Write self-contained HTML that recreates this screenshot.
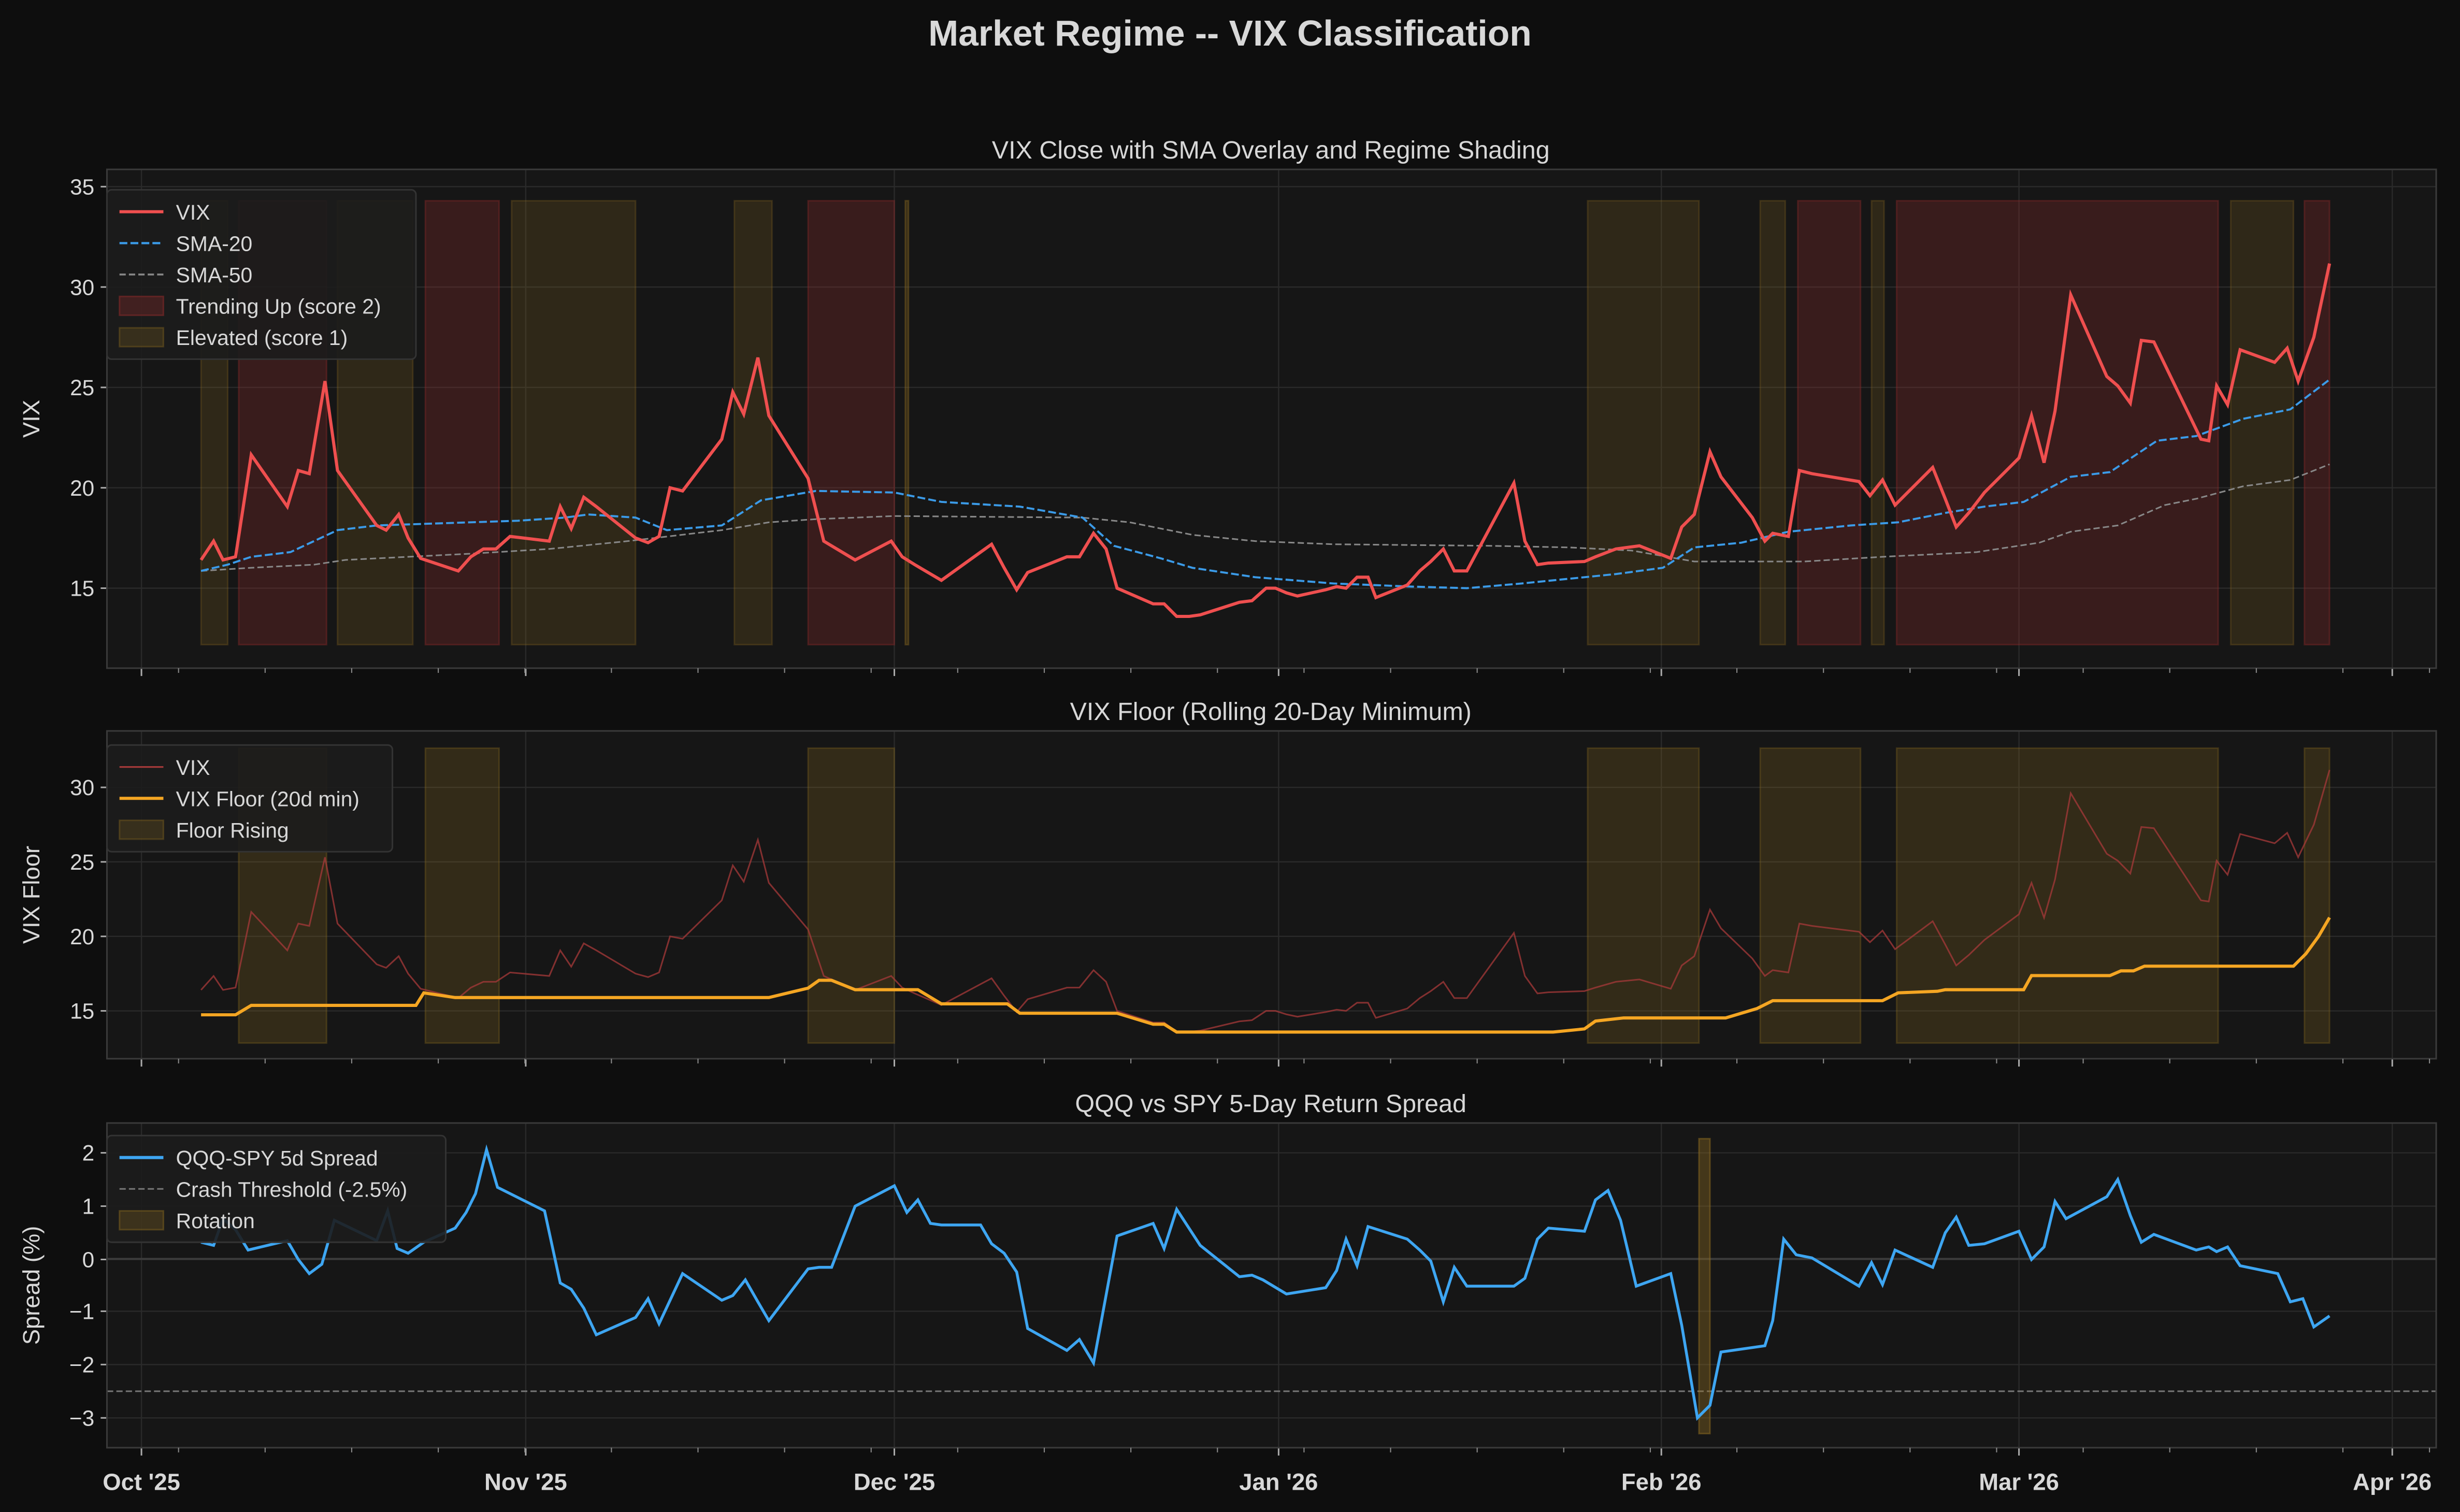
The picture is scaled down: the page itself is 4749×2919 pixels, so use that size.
<!DOCTYPE html>
<html><head><meta charset="utf-8"><style>
html,body{margin:0;padding:0;background:#0e0e0e;}
svg{display:block}
text{font-family:"Liberation Sans","DejaVu Sans",sans-serif;fill:#d8d8d8}
</style></head><body>
<svg id="s" width="4749" height="2919" viewBox="0 0 1568 964" xmlns="http://www.w3.org/2000/svg">
<rect width="1568" height="964" fill="#0e0e0e"/>
<text x="784" y="29" font-size="23" font-weight="bold" text-anchor="middle" fill="#e6e6e6">Market Regime -- VIX Classification</text>
<g id="g"></g>
</svg>
<script>
const NS="http://www.w3.org/2000/svg",G=document.getElementById('g');
function el(t,a,txt){const e=document.createElementNS(NS,t);for(const k in a)e.setAttribute(k,a[k]);if(txt!==undefined)e.textContent=txt;G.appendChild(e);return e;}
function pl(p,a){a.points=p.map(q=>q.join(',')).join(' ');a.fill='none';return el('polyline',a);}
const X0=68,X1=1553;
const xt=[[90,"Oct '25"],[335,"Nov '25"],[570,"Dec '25"],[815,"Jan '26"],[1059,"Feb '26"],[1287,"Mar '26"],[1525,"Apr '26"]];
function axes(y0,y1,title,ylab,yt){
 el('rect',{x:X0,y:y0,width:X1-X0,height:y1-y0,fill:'#161616'});
 xt.forEach(t=>el('line',{x1:t[0],x2:t[0],y1:y0,y2:y1,stroke:'#2a2a2a','stroke-width':0.8}));
 yt.forEach(t=>{el('line',{x1:X0,x2:X1,y1:t[1],y2:t[1],stroke:'#2a2a2a','stroke-width':0.8});
  el('line',{x1:X0-4,x2:X0,y1:t[1],y2:t[1],stroke:'#aaa'});
  el('text',{x:X0-8,y:t[1]+5,'font-size':14,'text-anchor':'end'},t[0]);});
 xt.forEach(t=>el('line',{x1:t[0],x2:t[0],y1:y1,y2:y1+5,stroke:'#aaa'}));
 el('text',{x:810,y:y0-7,'font-size':16,'text-anchor':'middle'},title);
 el('text',{x:25,y:(y0+y1)/2,'font-size':15,'text-anchor':'middle',transform:`rotate(-90 25 ${(y0+y1)/2})`},ylab);
}
function frame(y0,y1){el('rect',{x:X0,y:y0,width:X1-X0,height:y1-y0,fill:'none',stroke:'#3a3a3a','stroke-width':1});}
function shade(r,y0,y1,c,o){r.forEach(a=>el('rect',{x:a[0],y:y0,width:a[1]-a[0],height:y1-y0,fill:c,'fill-opacity':o,stroke:c,'stroke-opacity':o*1.3,'stroke-width':1}));}
// Panel 1
axes(108,426,'VIX Close with SMA Overlay and Regime Shading','VIX',[['15',375],['20',311],['25',247],['30',183],['35',119]]);
const ELEV='#8a6a20',RED='#8a2a2a';
shade([[128,145],[215,263],[326,405],[468,492],[1012,1083],[1122,1138],[1193,1201],[1422,1462]],128,411,ELEV,0.22);
shade([[152,208],[271,318],[515,570],[1146,1186],[1209,1414],[1469,1485]],128,411,RED,0.3);
shade([[577,579]],128,411,ELEV,0.3);
const vix=[[128,357],[136,345],[142,357],[150,355],[160,290],[183,323],[190,300],[197,302],[207,243],[215,300],[240,335],[246,338],[254,328],[260,343],[268,356],[292,364],[300,355],[308,350],[316,350],[325,342],[350,345],[357,323],[364,337],[372,317],[380,323],[405,343],[413,346],[420,342],[427,311],[435,313],[460,280],[467,250],[474,264],[483,228],[490,265],[515,305],[525,345],[545,357],[568,345],[575,355],[583,360],[600,370],[625,352],[632,347],[640,362],[648,376],[655,365],[680,355],[688,355],[697,340],[705,350],[712,375],[735,385],[742,385],[750,393],[758,393],[765,392],[790,384],[798,383],[807,375],[813,375],[820,378],[827,380],[845,376],[852,374],[858,375],[865,368],[872,368],[877,381],[897,373],[905,364],[912,358],[920,350],[927,364],[935,364],[965,308],[972,345],[980,360],[987,359],[1010,358],[1017,355],[1030,350],[1045,348],[1065,356],[1072,336],[1080,328],[1090,288],[1097,304],[1117,330],[1125,345],[1130,340],[1140,342],[1147,300],[1155,302],[1185,307],[1192,316],[1200,306],[1208,322],[1232,298],[1240,318],[1247,336],[1255,327],[1265,314],[1287,292],[1295,265],[1303,295],[1310,262],[1320,188],[1343,240],[1350,246],[1358,257],[1365,217],[1373,218],[1403,280],[1408,281],[1413,246],[1420,258],[1428,223],[1450,231],[1458,222],[1465,243],[1475,215],[1485,168]];
pl([[128,364],[160,362],[200,360],[220,357],[260,355],[300,353],[350,350],[400,345],[460,338],[490,333],[520,331],[570,329],[690,330],[720,333],[760,341],[800,345],[850,347],[950,348],[1000,349],[1040,351],[1080,358],[1150,358],[1200,355],[1260,352],[1300,346],[1320,339],[1350,335],[1380,322],[1400,318],[1430,310],[1460,306],[1485,296]],{stroke:'#888','stroke-width':1,'stroke-dasharray':'4,2'});
pl([[128,364],[145,360],[160,355],[185,352],[200,345],[215,338],[240,335],[270,334],[300,333],[330,332],[360,330],[375,328],[405,330],[425,338],[460,335],[485,319],[520,313],[570,314],[600,320],[650,323],[690,330],[710,348],[740,356],[760,362],[800,368],[850,372],[900,374],[935,375],[970,372],[1000,369],[1030,366],[1060,362],[1080,349],[1110,346],[1140,339],[1180,335],[1210,333],[1240,327],[1265,323],[1290,320],[1320,304],[1345,301],[1375,281],[1400,278],[1430,267],[1460,261],[1485,242]],{stroke:'#3b9be8','stroke-width':1.3,'stroke-dasharray':'5,2'});
pl(vix,{stroke:'#ef4f4f','stroke-width':2});
frame(108,426);
function legend(x,y,w,items){const h=items.length*20+8;el('rect',{x:x,y:y,width:w,height:h,fill:'#1c1c1c',stroke:'#333',rx:3,'fill-opacity':0.9});
 items.forEach((it,i)=>{const cy=y+14+i*20;
  if(it.t==='l')el('line',{x1:x+8,x2:x+36,y1:cy,y2:cy,stroke:it.c,'stroke-width':it.w||2,'stroke-dasharray':it.d||''});
  else el('rect',{x:x+8,y:cy-6,width:28,height:12,fill:it.c,'fill-opacity':it.o,stroke:it.c,'stroke-opacity':it.o*1.5});
  el('text',{x:x+44,y:cy+5,'font-size':13.5},it.n);});}
legend(68,121,197,[{t:'l',c:'#ef4f4f',n:'VIX'},{t:'l',c:'#3b9be8',d:'5,2',w:1.4,n:'SMA-20'},{t:'l',c:'#888',d:'4,2',w:1.2,n:'SMA-50'},{t:'r',c:RED,o:0.35,n:'Trending Up (score 2)'},{t:'r',c:ELEV,o:0.25,n:'Elevated (score 1)'}]);
// Panel 2
axes(466,675,'VIX Floor (Rolling 20-Day Minimum)','VIX Floor',[['15',644.5],['20',597],['25',549.5],['30',502]]);
shade([[152,208],[271,318],[515,570],[1012,1083],[1122,1186],[1209,1414],[1469,1485]],477,665,ELEV,0.25);
pl(vix.map(p=>[p[0],644.5-(375-p[1])*0.742]),{stroke:'#a83a3a','stroke-width':1,'stroke-opacity':0.75});
pl([[128,647],[150,647],[160,641],[265,641],[270,633],[290,636],[300,636],[490,636],[515,630],[522,625],[530,625],[545,631],[585,631],[600,640],[642,640],[650,646],[712,646],[735,653],[742,653],[750,658],[990,658],[1010,656],[1017,651],[1035,649],[1100,649],[1120,643],[1130,638],[1200,638],[1210,633],[1235,632],[1240,631],[1290,631],[1295,622],[1345,622],[1352,619],[1360,619],[1367,616],[1462,616],[1470,608],[1478,597],[1485,585]],{stroke:'#f5a623','stroke-width':2});
frame(466,675);
legend(68,475,182,[{t:'l',c:'#a83a3a',w:1,n:'VIX'},{t:'l',c:'#f5a623',n:'VIX Floor (20d min)'},{t:'r',c:ELEV,o:0.25,n:'Floor Rising'}]);
// Panel 3
axes(716,923,'QQQ vs SPY 5-Day Return Spread','Spread (%)',[['2',735],['1',769],['0',803],['\u22121',836],['\u22122',870],['\u22123',904]]);
el('line',{x1:X0,x2:X1,y1:802.6,y2:802.6,stroke:'#3c3c3c','stroke-width':1.2});
el('line',{x1:X0,x2:X1,y1:887,y2:887,stroke:'#777','stroke-width':1,'stroke-dasharray':'4,2'});
shade([[1083,1090]],726,914,ELEV,0.4);
pl([[128,792],[136,794],[142,777],[150,784],[158,797],[183,791],[190,803],[197,812],[205,806],[213,778],[240,791],[247,772],[253,796],[260,799],[270,792],[290,783],[297,773],[303,761],[310,733],[317,757],[347,772],[357,818],[364,822],[372,834],[380,851],[405,840],[413,828],[420,844],[435,812],[460,829],[467,826],[475,816],[483,830],[490,842],[515,809],[522,808],[530,808],[545,769],[570,756],[578,773],[585,765],[593,780],[600,781],[625,781],[632,793],[640,799],[648,811],[655,847],[680,861],[688,854],[697,869],[712,788],[735,780],[742,796],[750,771],[765,794],[790,814],[798,813],[805,816],[820,825],[845,821],[852,810],[858,790],[865,807],[872,782],[897,790],[905,797],[912,804],[920,830],[927,808],[935,820],[965,820],[972,815],[980,790],[987,783],[1010,785],[1017,765],[1025,759],[1033,778],[1043,820],[1065,812],[1072,845],[1082,904],[1090,896],[1097,862],[1125,858],[1130,842],[1137,790],[1145,800],[1155,802],[1185,820],[1193,805],[1200,819],[1208,797],[1232,808],[1240,786],[1247,776],[1255,794],[1265,793],[1287,785],[1295,803],[1303,795],[1310,766],[1317,777],[1343,763],[1350,752],[1358,775],[1365,792],[1373,787],[1400,797],[1408,795],[1413,798],[1420,795],[1428,807],[1452,812],[1460,830],[1468,828],[1475,846],[1485,839]],{stroke:'#3ea6f2','stroke-width':1.8});
frame(716,923);
legend(68,724,216,[{t:'l',c:'#3ea6f2',n:'QQQ-SPY 5d Spread'},{t:'l',c:'#777',d:'4,2',w:1,n:'Crash Threshold (-2.5%)'},{t:'r',c:ELEV,o:0.3,n:'Rotation'}]);
xt.forEach(t=>el('text',{x:t[0],y:950,'font-size':15,'font-weight':'bold','text-anchor':'middle',fill:'#e6e6e6'},t[1]));
[426,675,923].forEach(y=>{for(let x=90+7.885*3;x<1553;x+=7.885*7)el('line',{x1:x,x2:x,y1:y,y2:y+3,stroke:'#888','stroke-width':0.7});});
</script>
</body></html>
